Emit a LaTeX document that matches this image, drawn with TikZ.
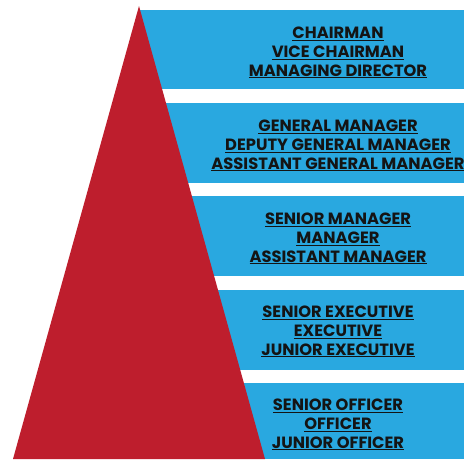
\documentclass[tikz,border=0pt]{standalone}
\usepackage{fontspec}
\setmainfont{Poppins}
\definecolor{pyrred}{HTML}{BE1E2D}
\definecolor{bandblue}{HTML}{29A8E0}
\definecolor{inkdark}{HTML}{141414}
\newcommand{\rankline}[1]{\underline{#1}}
\tikzset{
  band/.style={fill=bandblue, draw=none, anchor=north west, minimum width=325pt, inner sep=0pt},
  ranks/.style={align=center, text=inkdark, inner sep=0pt,
    font=\fontsize{16.3}{18.8}\selectfont\bfseries},
  pyramid/.style={fill=pyrred, draw=none}
}
\begin{document}
\begin{tikzpicture}[x=1pt,y=-1pt]
\useasboundingbox[fill=white] (0,0) rectangle (464,459);
% horizontal bands
\node[band, minimum height=79pt] (b1) at (139,10) {};
\node[band, minimum height=80pt] (b2) at (139,103) {};
\node[band, minimum height=80pt] (b3) at (139,196) {};
\node[band, minimum height=80pt] (b4) at (139,290) {};
\node[band, minimum height=76pt] (b5) at (139,383) {};
% pyramid
\coordinate (apex) at (139,6);
\coordinate (bl) at (13,459);
\coordinate (br) at (265,459);
\fill[pyramid] (apex) -- (bl) -- (br) -- cycle;
% rank labels
\node[ranks] (t1) at (338,52.5) {\rankline{CHAIRMAN}\\\rankline{VICE CHAIRMAN}\\\rankline{MANAGING DIRECTOR}};
\node[ranks] (t2) at (338,145.5) {\rankline{GENERAL MANAGER}\\\rankline{DEPUTY GENERAL MANAGER}\\\rankline{ASSISTANT GENERAL MANAGER}};
\node[ranks] (t3) at (338,238.5) {\rankline{SENIOR MANAGER}\\\rankline{MANAGER}\\\rankline{ASSISTANT MANAGER}};
\node[ranks] (t4) at (338,331.5) {\rankline{SENIOR EXECUTIVE}\\\rankline{EXECUTIVE}\\\rankline{JUNIOR EXECUTIVE}};
\node[ranks] (t5) at (338,424.5) {\rankline{SENIOR OFFICER}\\\rankline{OFFICER}\\\rankline{JUNIOR OFFICER}};
\end{tikzpicture}
\end{document}
